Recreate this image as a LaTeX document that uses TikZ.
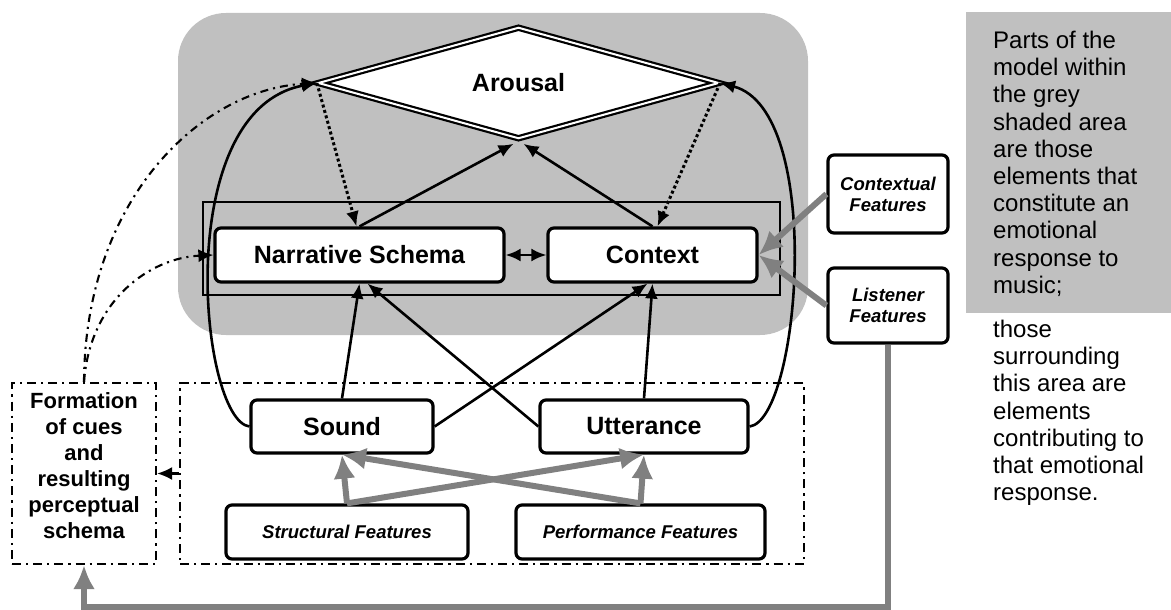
\documentclass[tikz,border=0pt]{standalone}
\usepackage{fontspec}
\setmainfont{Liberation Sans}
\usetikzlibrary{shapes.geometric,arrows.meta}
\definecolor{lightshade}{RGB}{192,192,192}
\definecolor{darkshade}{RGB}{128,128,128}

\begin{document}
\begin{tikzpicture}[x=1pt, y=-1pt, >={Latex[length=15pt,width=13pt]},
    stage/.style={draw, line width=3.2pt, rounded corners=6pt, fill=white, inner sep=0pt,
        font=\fontsize{25}{30}\selectfont\bfseries},
    feature/.style={stage, align=center, font=\fontsize{18.5}{21}\selectfont\bfseries\itshape},
    dashdotbox/.style={draw, line width=2.2pt, dash pattern=on 9pt off 5pt on 2.2pt off 5pt},
    blackarrow/.style={->, line width=2.6pt},
    dottedarrow/.style={->, line width=3pt, dash pattern=on 3pt off 2.6pt},
    cuearrow/.style={->, line width=2.1pt, dash pattern=on 8pt off 5pt on 2.1pt off 5pt},
    greyarrow/.style={-{Latex[length=24pt,width=22pt]}, line width=6pt, draw=darkshade}]
    \useasboundingbox (0,0) rectangle (1171,610);

    % shaded areas
    \fill[lightshade, rounded corners=48pt] (178,13) rectangle (808,335);
    \fill[lightshade] (966,12) rectangle (1171,313);
    \draw[line width=1.5pt] (203,202) rectangle (780,295);

    \node[draw, diamond, double, line width=2.2pt, double distance=2pt, fill=white,
        minimum width=401pt, minimum height=104pt, inner sep=0pt,
        font=\fontsize{25}{30}\selectfont\bfseries] (arousal) at (518.5,83) {Arousal};
    \node[stage, minimum width=289pt, minimum height=54pt] (narrative) at (359.5,255) {Narrative Schema};
    \node[stage, minimum width=209pt, minimum height=54pt] (context) at (652.5,255) {Context};

    \node[dashdotbox, minimum width=624pt, minimum height=181pt] (cuebox) at (492,473.5) {};
    \node[stage, minimum width=182pt, minimum height=53pt] (sound) at (342,426.5) {Sound};
    \node[stage, minimum width=208pt, minimum height=53pt] (utterance) at (644,426.5) {Utterance};
    \node[feature, minimum width=242pt, minimum height=54pt] (structural) at (347,532) {Structural Features};
    \node[feature, minimum width=249pt, minimum height=54pt] (performance) at (640.5,532) {Performance Features};
    \node[dashdotbox, minimum width=144pt, minimum height=181pt] (formation) at (84,473.5) {};
    \node[align=center, inner sep=0pt, font=\fontsize{22}{26}\selectfont\bfseries] (formationtext)
        at (84,466) {Formation\\of cues\\and\\resulting\\perceptual\\schema};

    \node[feature, minimum width=120pt, minimum height=78pt] (contextual) at (888,194) {Contextual\\Features};
    \node[feature, minimum width=120pt, minimum height=75pt] (listener) at (888,305.5) {Listener\\Features};

    \node[anchor=north west, inner sep=0pt, align=left, font=\fontsize{24}{27.2}\selectfont]
        (panelnote) at (993,31) {Parts of the\\model within\\the grey\\shaded area\\are those\\elements that\\constitute an\\emotional\\response to\\music;};
    \node[anchor=north west, inner sep=0pt, align=left, font=\fontsize{24}{27.2}\selectfont]
        (outernote) at (993,320) {those\\surrounding\\this area are\\elements\\contributing to\\that emotional\\response.};

    % black connectors
    \draw[blackarrow] (sound.north) -- (narrative.south);
    \draw[blackarrow] (utterance.west) -- ([xshift=8pt]narrative.south);
    \draw[blackarrow] (sound.east) -- ([xshift=-5pt]context.south);
    \draw[blackarrow] (utterance.north) -- (context.south);
    \draw[blackarrow] (narrative.north) -- ([xshift=-5pt,yshift=-4pt]arousal.south);
    \draw[blackarrow] (context.north) -- ([xshift=5pt,yshift=-4pt]arousal.south);
    \draw[blackarrow, <->] (narrative.east) -- (context.west);
    \draw[dottedarrow] (arousal.west) -- ([xshift=-3pt]narrative.north);
    \draw[dottedarrow] (arousal.east) -- ([xshift=5pt]context.north);
    \draw[blackarrow] (sound.west) .. controls (200,420) and (170,110) .. (arousal.west);
    \draw[blackarrow] (utterance.east) .. controls (800,420) and (825,110) .. (arousal.east);

    % cue formation
    \draw[cuearrow] (formation.north) .. controls (85,200) and (200,90) .. (arousal.west);
    \draw[cuearrow] (formation.north) .. controls (90,300) and (150,258) .. (narrative.west);
    \draw[cuearrow] (cuebox.west) -- (formation.east);

    % grey connectors
    \draw[greyarrow] (structural.north) -- (sound.south);
    \draw[greyarrow] (structural.north) -- (utterance.south);
    \draw[greyarrow] (performance.north) -- (utterance.south);
    \draw[greyarrow] (performance.north) -- (sound.south);
    \draw[greyarrow] (contextual.west) -- (context.east);
    \draw[greyarrow] (listener.west) -- (context.east);
    \coordinate (floor) at (0,607);
    \draw[greyarrow] (listener.south) -- (listener.south |- floor) -| (formation.south);
\end{tikzpicture}
\end{document}
